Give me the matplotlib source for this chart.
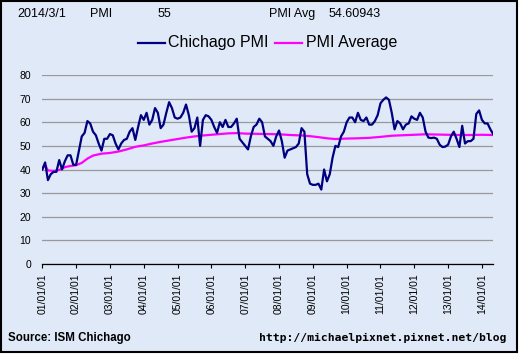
import numpy as np
import matplotlib
matplotlib.use("Agg")
import matplotlib.pyplot as plt
from matplotlib.lines import Line2D
from matplotlib.patches import Rectangle

# Chicago PMI, monthly from 2001/01
pmi = [
    40, 43, 35.5, 38, 39, 39, 44, 40, 43.5, 46, 46, 42,            # 2001
    42, 48, 54, 55.5, 60.5, 59.5, 56, 54.5, 51, 48, 53, 53,        # 2002
    55, 54.5, 51, 48.5, 51, 52.5, 53, 56, 57.5, 52.5, 58, 63,      # 2003
    61, 64, 59, 61, 66, 64, 57.5, 59, 64, 68.5, 66, 62,            # 2004
    61.5, 62, 64, 67.5, 63, 56, 57.5, 62, 50, 61, 63, 62.5,        # 2005
    61, 58, 55.5, 60, 58, 61, 58, 58, 59.5, 61.5, 53, 51.5,        # 2006
    50, 48.5, 54, 58, 59, 61.5, 60, 54, 53, 52, 50, 54,            # 2007
    56.5, 52, 45, 48, 48.5, 49, 49.5, 51, 57.5, 56, 38, 34,        # 2008
    33.5, 33.5, 34, 31.5, 40, 35, 38, 45, 50, 49.5, 54, 56,        # 2009
    60, 62, 62, 60, 64, 61, 60.5, 62, 59, 59, 60.5, 63,            # 2010
    68, 69.5, 70.5, 69.5, 64, 57, 60.5, 59.5, 57, 59, 59.5, 62.5,  # 2011
    61.5, 61, 64, 62, 56, 53.5, 53.3, 53.5, 53, 50.5, 49.5, 49.7,  # 2012
    50.5, 54, 56, 53, 49.5, 58.5, 51, 52, 52, 53, 63.5, 65,        # 2013
    61, 59.5, 59.5, 57, 55,                                        # 2014
]

# running PMI average, read at selected months
avg_month = [0, 1, 2, 4, 6, 8, 10, 12, 14, 16, 18, 21, 24, 27, 30, 33, 36, 39,
             42, 45, 48, 51, 54, 57, 60, 63, 66, 69, 72, 76, 80, 84, 88, 92, 95,
             98, 101, 104, 108, 112, 116, 120, 124, 128, 132, 136, 140, 144,
             148, 152, 156, 160]
avg_value = [40.2, 41.9, 39.6, 39.4, 39.8, 41.0, 41.5, 41.8, 42.8, 44.6, 45.9,
             46.7, 47.0, 47.6, 48.5, 49.6, 50.2, 51.0, 51.7, 52.3, 52.9, 53.5,
             54.0, 54.4, 54.7, 55.0, 55.3, 55.4, 55.2, 55.1, 55.0, 54.9, 54.6,
             54.4, 54.1, 53.7, 53.2, 52.9, 53.1, 53.2, 53.4, 53.8, 54.3, 54.5,
             54.7, 54.9, 54.8, 54.7, 54.6, 54.6, 54.7, 54.6]

tick_labels = ["%02d/01/01" % y for y in range(1, 15)]

bg = "#dfe9f7"
W, H = 525, 355

fig = plt.figure(figsize=(W / 100, H / 100), dpi=100, facecolor="white")
plt.rcParams["font.family"] = ["Liberation Sans", "DejaVu Sans"]

# outer frame
fig.patches.append(Rectangle((1 / W, 3 / H), 516 / W, 351 / H, transform=fig.transFigure,
                             facecolor=bg, edgecolor="black", lw=1.5, zorder=-5))

ax = fig.add_axes([42.3 / W, 1 - 264 / H, 450.9 / W, 189 / H])
ax.set_facecolor(bg)
ax.patch.set_alpha(0)
ax.set_zorder(2)

ax.plot(range(len(pmi)), pmi, color="#000080", lw=1.6, zorder=3)
ax.plot(avg_month, avg_value, color="#ff00ff", lw=1.6, zorder=2)

ax.set_xlim(0, 160)
ax.set_ylim(0, 80)
ax.set_yticks(range(0, 81, 10))
ax.yaxis.grid(True, color="#999999", lw=0.9)
ax.set_axisbelow(True)
for s in ["left", "right", "top"]:
    ax.spines[s].set_visible(False)
ax.spines["bottom"].set_linewidth(0.9)
ax.tick_params(axis="y", length=0, pad=8, labelsize=7.5)
ax.set_xticks(range(0, 157, 12))
ax.set_xticklabels(tick_labels, rotation=90, fontsize=7.5)
ax.tick_params(axis="x", length=3, width=0.8, pad=4, direction="out")

# header line
fs = 9
fig.text(17 / W, 1 - 14 / H, "2014/3/1", fontsize=fs, va="center")
fig.text(90 / W, 1 - 14 / H, "PMI", fontsize=fs, va="center")
fig.text(158 / W, 1 - 14 / H, "55", fontsize=fs, va="center")
fig.text(269 / W, 1 - 14 / H, "PMI Avg", fontsize=fs, va="center")
fig.text(329 / W, 1 - 14 / H, "54.60943", fontsize=fs, va="center")

# legend
ly = 1 - 43 / H
fig.lines.append(Line2D([138 / W, 165 / W], [ly, ly], transform=fig.transFigure,
                        color="#000080", lw=1.6))
fig.text(168 / W, ly, "Chichago PMI", fontsize=11.5, va="center")
fig.lines.append(Line2D([275 / W, 302 / W], [ly, ly], transform=fig.transFigure,
                        color="#ff00ff", lw=1.6))
fig.text(306 / W, ly, "PMI Average", fontsize=11.5, va="center")

# footer
fig.text(8 / W, 1 - 338 / H, "Source: ISM Chichago", fontsize=8.3, fontweight="bold", va="center")
fig.text(507 / W, 1 - 338 / H, "http://michaelpixnet.pixnet.net/blog", fontsize=8.2,
         fontweight="bold", family="DejaVu Sans Mono", va="center", ha="right")

fig.savefig("out.png", dpi=100, facecolor="white")
